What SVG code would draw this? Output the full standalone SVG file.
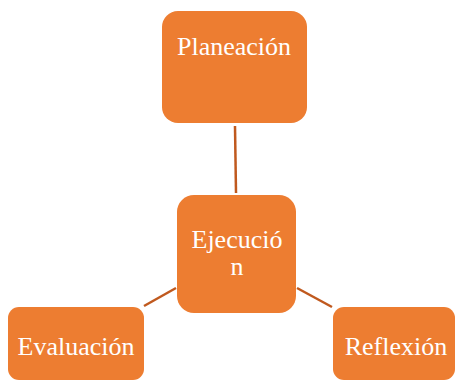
<svg xmlns="http://www.w3.org/2000/svg" width="457" height="381" viewBox="0 0 457 381">
<style>
.box{fill:#ED7D31;}
.lbl{font-family:"Liberation Serif","Times New Roman",serif;font-size:26px;fill:#FFFFFF;text-anchor:middle;}
.con{stroke:#C0591E;stroke-width:2.5;fill:none;}
</style>
<rect width="457" height="381" fill="#FFFFFF"/>
<g id="connectors">
<line class="con" x1="235" y1="126" x2="236" y2="193"/>
<line class="con" x1="176" y1="288" x2="144" y2="306"/>
<line class="con" x1="297" y1="288" x2="332" y2="307"/>
</g>
<g id="planeacion">
<rect class="box" x="162" y="11" width="145" height="112" rx="16"/>
<text class="lbl" x="234" y="55">Planeación</text>
</g>
<g id="ejecucion">
<rect class="box" x="177" y="195" width="119" height="118" rx="17"/>
<text class="lbl" x="237" y="248">Ejecució</text>
<text class="lbl" x="237" y="275">n</text>
</g>
<g id="evaluacion">
<rect class="box" x="8" y="307" width="136" height="73" rx="11"/>
<text class="lbl" x="76" y="355">Evaluación</text>
</g>
<g id="reflexion">
<rect class="box" x="333" y="307" width="122" height="73" rx="11"/>
<text class="lbl" x="396" y="355">Reflexión</text>
</g>
</svg>
